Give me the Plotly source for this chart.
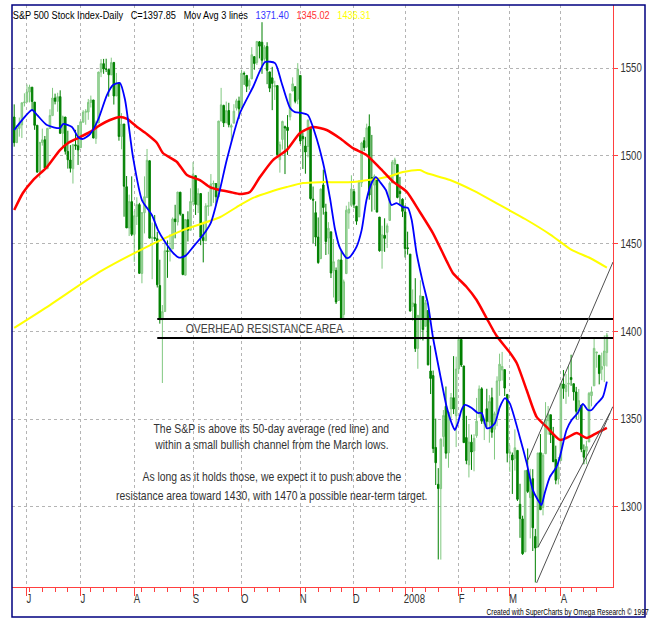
import plotly.graph_objects as go
import pandas as pd

# ---------------- data ----------------
holidays = ["2007-05-28", "2007-07-04", "2007-09-03", "2007-11-22", "2007-12-25",
            "2008-01-01", "2008-01-21", "2008-02-18", "2008-03-21"]
dates = [d for d in pd.bdate_range("2007-05-24", "2008-04-25")
         if d.strftime("%Y-%m-%d") not in holidays]

opens = [
    1522.1, 1507.5, 1515.6, 1517.6, 1530.2,
    1530.6, 1536.3, 1539.1, 1530.6, 1517.4, 1490.7, 1507.6, 1509.1, 1492.6, 1515.6, 1522.9, 1532.9, 1531.0, 1533.7, 1512.8, 1522.1, 1502.5, 1497.6, 1492.6, 1506.3, 1505.7,
    1504.6, 1519.1, 1524.8, 1524.9, 1530.4, 1531.8, 1509.9, 1518.7, 1547.7, 1552.5, 1549.5, 1549.2, 1546.1, 1553.2, 1534.1, 1541.6, 1511.0, 1518.1, 1482.4, 1458.9, 1473.9,
    1455.2, 1465.5, 1472.2, 1433.0, 1467.6, 1476.2, 1497.2, 1453.0, 1453.4, 1452.8, 1426.1, 1406.6, 1411.3, 1445.9, 1445.5, 1447.0, 1464.0, 1462.3, 1479.3, 1466.7, 1432.0, 1463.6, 1457.6,
    1473.9, 1488.7, 1472.0, 1478.5, 1453.5, 1451.6, 1471.1, 1471.5, 1483.9, 1484.2, 1476.6, 1519.8, 1528.7, 1518.8, 1525.8, 1516.3, 1518.6, 1527.3, 1531.2,
    1527.3, 1546.9, 1545.8, 1539.9, 1543.8, 1556.5, 1553.2, 1564.9, 1564.7, 1555.4, 1562.3, 1547.8, 1544.4, 1539.3, 1540.0, 1497.8, 1509.3, 1516.6, 1516.2, 1522.2, 1536.9, 1539.4, 1532.2,
    1545.8, 1511.1, 1505.6, 1505.3, 1515.5, 1475.3, 1467.6, 1453.7, 1441.4, 1483.4, 1468.0, 1453.1, 1456.7, 1434.5, 1434.7, 1417.6, 1440.7, 1409.6, 1432.9, 1467.4, 1471.8,
    1479.6, 1471.3, 1465.2, 1484.6, 1508.6, 1505.1, 1516.7, 1487.6, 1483.3, 1486.2, 1465.1, 1445.9, 1454.7, 1456.4, 1463.2, 1484.6, 1495.1, 1495.1, 1479.8, 1475.3,
    1468.0, 1447.6, 1444.0, 1414.1, 1415.7, 1390.3, 1406.8, 1419.9, 1402.9, 1411.9, 1377.4, 1374.8, 1333.9, 1312.9, 1310.4, 1340.1, 1357.3, 1330.7, 1355.9, 1362.2, 1351.9,
    1378.6, 1395.4, 1380.3, 1339.5, 1324.0, 1336.9, 1331.9, 1340.6, 1353.1, 1367.3, 1347.5, 1355.9, 1348.4, 1362.2, 1344.2, 1352.8, 1371.8, 1378.0, 1378.2, 1364.1,
    1330.5, 1329.6, 1327.7, 1332.2, 1301.5, 1293.2, 1274.4, 1321.1, 1305.3, 1316.1, 1283.2, 1277.2, 1330.9, 1299.7, 1330.3, 1349.1, 1352.5, 1341.0, 1327.0, 1315.9,
    1326.4, 1370.0, 1365.7, 1369.9, 1373.7, 1370.2, 1365.5, 1355.4, 1358.0, 1332.2, 1331.7, 1337.0, 1363.4, 1369.0, 1387.7, 1386.4, 1378.4, 1380.5, 1387.9,
]
highs = [
    1529.3, 1517.4, 1521.8, 1530.2, 1535.6,
    1540.6, 1540.5, 1539.1, 1530.6, 1517.4, 1507.8, 1515.5, 1511.3, 1515.7, 1526.5, 1538.7, 1535.4, 1535.9, 1537.3, 1522.9, 1522.1, 1514.3, 1506.1, 1506.8, 1514.8, 1517.5,
    1519.5, 1526.0, 1526.6, 1532.4, 1534.3, 1531.8, 1520.1, 1547.9, 1555.1, 1555.2, 1555.3, 1549.2, 1555.9, 1553.2, 1547.2, 1541.6, 1524.3, 1518.1, 1488.5, 1477.9, 1488.3,
    1468.4, 1476.4, 1473.2, 1467.7, 1488.3, 1503.9, 1497.2, 1462.0, 1466.3, 1456.7, 1440.8, 1415.0, 1450.3, 1451.8, 1455.3, 1464.9, 1472.1, 1479.4, 1479.3, 1466.7, 1463.8, 1468.4, 1481.5,
    1496.4, 1488.7, 1481.5, 1478.5, 1462.4, 1473.0, 1479.5, 1489.6, 1485.9, 1484.2, 1519.9, 1538.7, 1529.1, 1530.9, 1530.2, 1518.3, 1529.4, 1532.5, 1533.7,
    1549.0, 1548.0, 1545.8, 1544.0, 1561.9, 1556.5, 1565.3, 1565.4, 1576.1, 1563.0, 1564.7, 1547.8, 1550.7, 1542.8, 1540.0, 1508.1, 1520.0, 1517.2, 1523.2, 1535.5, 1544.7, 1539.4, 1552.8,
    1545.8, 1513.2, 1510.8, 1520.8, 1515.5, 1482.5, 1474.1, 1464.9, 1481.4, 1492.1, 1472.7, 1462.2, 1456.7, 1452.6, 1436.4, 1440.9, 1446.1, 1429.5, 1471.6, 1473.8, 1488.9,
    1481.2, 1471.3, 1486.1, 1508.0, 1510.6, 1518.3, 1523.6, 1511.9, 1489.4, 1486.7, 1465.1, 1460.2, 1464.4, 1461.5, 1485.4, 1497.6, 1498.9, 1495.1, 1488.0, 1475.8,
    1471.8, 1456.8, 1444.0, 1423.9, 1430.3, 1409.2, 1429.1, 1419.9, 1417.9, 1411.9, 1391.9, 1377.7, 1350.3, 1322.1, 1339.1, 1355.2, 1368.6, 1354.0, 1364.9, 1385.9, 1385.6,
    1396.0, 1395.4, 1380.3, 1351.9, 1347.2, 1341.2, 1341.4, 1362.1, 1369.2, 1368.2, 1350.0, 1367.3, 1363.7, 1367.9, 1354.3, 1374.4, 1387.3, 1388.3, 1378.2, 1364.1,
    1335.1, 1331.0, 1344.2, 1332.2, 1313.2, 1295.0, 1320.7, 1333.3, 1321.7, 1321.5, 1287.5, 1330.7, 1341.5, 1330.7, 1359.7, 1357.5, 1352.5, 1345.6, 1334.9, 1328.5,
    1370.2, 1378.0, 1375.7, 1380.9, 1386.7, 1370.2, 1368.4, 1367.2, 1358.0, 1335.6, 1337.7, 1365.5, 1368.6, 1395.9, 1388.2, 1386.4, 1387.9, 1397.7, 1399.1,
]
lows = [
    1505.2, 1507.5, 1510.9, 1510.1, 1528.1,
    1530.6, 1530.4, 1525.6, 1514.8, 1490.4, 1487.4, 1505.8, 1492.9, 1492.6, 1515.6, 1522.9, 1529.3, 1525.1, 1512.4, 1504.8, 1500.7, 1492.7, 1490.5, 1484.2, 1503.4, 1494.8,
    1504.6, 1519.1, 1517.7, 1520.5, 1527.5, 1510.0, 1506.8, 1518.7, 1544.8, 1546.7, 1547.7, 1533.7, 1546.1, 1529.2, 1534.1, 1508.6, 1503.7, 1465.3, 1458.9, 1454.3, 1454.3,
    1439.6, 1460.6, 1432.8, 1427.4, 1455.8, 1476.2, 1453.1, 1429.7, 1451.5, 1425.0, 1404.4, 1370.6, 1411.3, 1430.5, 1439.8, 1447.0, 1453.0, 1460.3, 1465.9, 1432.0, 1432.0, 1451.2, 1457.6,
    1472.1, 1466.3, 1467.4, 1449.1, 1439.3, 1451.6, 1465.8, 1471.5, 1473.2, 1471.8, 1476.6, 1519.8, 1516.4, 1518.8, 1516.2, 1507.1, 1518.6, 1525.8, 1521.0,
    1527.3, 1540.4, 1536.3, 1537.6, 1543.8, 1549.0, 1551.8, 1555.5, 1546.7, 1554.1, 1540.8, 1536.3, 1526.0, 1531.8, 1500.3, 1490.4, 1503.6, 1489.6, 1500.5, 1520.2, 1536.9, 1529.9, 1529.4,
    1506.7, 1492.5, 1489.8, 1499.1, 1475.0, 1450.3, 1448.5, 1438.5, 1441.4, 1466.5, 1443.5, 1443.9, 1430.4, 1419.3, 1415.6, 1417.6, 1406.8, 1407.4, 1432.9, 1458.4, 1470.9,
    1470.1, 1460.7, 1465.2, 1482.2, 1502.7, 1504.4, 1475.0, 1468.2, 1469.2, 1467.8, 1445.4, 1435.7, 1445.3, 1447.5, 1463.2, 1484.6, 1488.4, 1475.8, 1471.7, 1465.1,
    1442.1, 1443.7, 1411.2, 1406.0, 1388.3, 1378.7, 1395.3, 1394.8, 1402.9, 1380.6, 1364.3, 1330.7, 1312.5, 1270.1, 1270.0, 1334.3, 1327.5, 1322.3, 1350.3, 1352.9, 1334.1,
    1375.9, 1379.7, 1336.6, 1324.3, 1316.8, 1321.1, 1320.3, 1339.4, 1350.8, 1347.3, 1338.1, 1345.1, 1336.6, 1339.4, 1327.0, 1346.0, 1363.3, 1372.0, 1363.2, 1325.4,
    1320.0, 1307.4, 1320.7, 1303.4, 1282.4, 1272.7, 1274.4, 1307.9, 1282.1, 1274.9, 1257.0, 1277.2, 1298.4, 1295.2, 1330.3, 1341.2, 1336.4, 1325.7, 1312.9, 1312.8,
    1326.4, 1361.6, 1358.7, 1362.8, 1369.0, 1360.6, 1350.0, 1350.1, 1331.2, 1324.3, 1324.4, 1337.0, 1357.3, 1369.0, 1379.3, 1369.8, 1372.2, 1371.1, 1380.0,
]
closes = [
    1507.51, 1515.73, 1518.11, 1530.23, 1530.62,
    1536.34, 1539.18, 1530.95, 1517.38, 1490.72, 1507.67, 1509.12, 1493.00, 1515.67, 1522.97, 1532.91, 1531.05, 1533.70, 1512.84, 1522.19, 1502.56, 1497.74, 1492.89, 1506.34, 1505.71, 1503.35,
    1519.43, 1524.87, 1525.40, 1530.44, 1531.85, 1510.12, 1518.76, 1547.70, 1552.50, 1549.52, 1549.37, 1546.17, 1553.08, 1534.10, 1541.57, 1511.04, 1518.09, 1482.66, 1458.95, 1473.91, 1455.27,
    1465.81, 1472.20, 1433.06, 1467.67, 1476.71, 1497.49, 1453.09, 1453.64, 1452.92, 1426.54, 1406.70, 1411.27, 1445.94, 1445.55, 1447.12, 1464.07, 1462.50, 1479.37, 1466.79, 1432.36, 1463.76, 1457.64, 1473.99,
    1489.42, 1472.29, 1478.55, 1453.55, 1451.70, 1471.49, 1471.56, 1483.95, 1484.25, 1476.65, 1519.78, 1529.03, 1518.75, 1525.75, 1517.73, 1517.21, 1525.42, 1531.38, 1526.75,
    1547.04, 1546.63, 1539.59, 1542.84, 1557.59, 1552.58, 1565.15, 1562.47, 1554.41, 1561.80, 1548.71, 1538.53, 1541.24, 1540.08, 1500.63, 1506.33, 1519.59, 1515.88, 1514.40, 1535.28, 1540.98, 1531.02, 1549.38,
    1508.44, 1509.65, 1502.17, 1520.27, 1475.62, 1474.77, 1453.70, 1439.18, 1481.05, 1470.58, 1451.15, 1458.74, 1433.27, 1439.70, 1416.77, 1440.70, 1407.22, 1428.23, 1469.02, 1469.72, 1481.14,
    1472.42, 1462.79, 1485.01, 1507.34, 1504.66, 1515.96, 1477.65, 1486.59, 1488.41, 1467.95, 1445.90, 1454.98, 1453.00, 1460.12, 1484.46, 1496.45, 1497.66, 1476.27, 1478.49, 1468.36,
    1447.16, 1447.16, 1411.63, 1416.18, 1390.19, 1409.13, 1420.33, 1401.02, 1416.25, 1380.95, 1373.20, 1333.25, 1325.19, 1310.50, 1338.60, 1352.07, 1330.61, 1353.96, 1362.30, 1355.81, 1378.55,
    1395.42, 1380.82, 1336.64, 1326.45, 1336.91, 1331.29, 1339.13, 1348.86, 1367.21, 1348.86, 1349.99, 1348.78, 1360.03, 1342.53, 1353.11, 1371.80, 1381.29, 1380.02, 1367.68, 1330.63,
    1331.34, 1326.75, 1333.70, 1304.34, 1293.37, 1273.37, 1320.65, 1308.77, 1315.48, 1288.14, 1276.60, 1330.74, 1298.42, 1329.51, 1349.88, 1352.99, 1341.13, 1325.76, 1315.22, 1322.70,
    1370.18, 1367.53, 1369.31, 1370.40, 1372.54, 1365.54, 1354.49, 1360.55, 1332.83, 1328.32, 1334.43, 1364.71, 1365.56, 1390.33, 1388.17, 1375.94, 1379.93, 1388.82, 1397.84,
]

# moving-average lines (position = trading-day index)
blue_pos = [0, 7, 9, 12.8, 17.9, 19.1, 22.6, 25, 26.9, 29.7, 32.8, 36.3, 38.7, 41.4, 43.4, 46.5, 50, 53.9,
            56.3, 59, 62, 64.5, 67, 70, 74, 77, 80.5, 83.2, 88.4, 93.5, 98.2, 102.1, 104.7, 108, 109.9,
            112.5, 115, 117.7, 120.9, 123.6, 125.6, 127.5, 130.1, 131.4, 134, 136, 137.9, 139.9, 141.6,
            143.2, 145.5, 147.7, 149.7, 152.2, 154.1, 155.6, 157.5, 160, 161.9, 163.9, 166.6, 169.3,
            171.2, 172.5, 173.7, 175.1, 176.4, 179.1, 181.5, 183, 184.9, 186.2, 188.2, 190.1, 192.1,
            194, 197.9, 200.6, 203, 205, 206.4, 207.7, 209.7, 212.3, 213.6, 216.2, 218.2, 220.6, 222.6,
            224.6, 226, 228, 230.4, 232]
blue_val = [1514.7, 1526.1, 1523.2, 1517.5, 1515.8, 1518.1, 1516.4, 1510.7, 1509.6, 1512.4, 1520.4, 1534.6,
            1540.3, 1541.5, 1531.8, 1499.3, 1474.8, 1466.3, 1457.7, 1451, 1445, 1442, 1443, 1448, 1455,
            1462, 1480.5, 1497.6, 1524.4, 1539.2, 1553.4, 1552.8, 1541.5, 1527.2, 1524.9, 1524.4, 1523.2,
            1513, 1496, 1476, 1458, 1447.5, 1441.8, 1442.4, 1448.1, 1457.7, 1474.8, 1484.5, 1487.9,
            1485.1, 1480.5, 1472, 1473.1, 1470.8, 1470.3, 1463.4, 1444.6, 1427.6, 1416.2, 1396.8, 1376.3,
            1356.9, 1347.8, 1343.8, 1347.8, 1355.2, 1358.1, 1356.4, 1353.5, 1353.5, 1345, 1345, 1347.8,
            1356.9, 1362, 1359, 1339.9, 1325.1, 1309.7, 1304, 1301.1, 1308, 1317.1, 1322.8, 1328.5,
            1343.8, 1349.5, 1353.5, 1358.7, 1355.2, 1355.2, 1358.7, 1362.6, 1371.4]

red_pos = [0, 3.4, 7.4, 12.8, 17.9, 21.1, 25, 29.7, 33.6, 37.5, 41.4, 44.2, 48.1, 51.9, 55.9, 58.2, 63.7,
           67.6, 72.7, 76.6, 80.5, 84.5, 88.4, 92.3, 96.2, 101.3, 106.7, 111.9, 116.9, 122.3, 127.5,
           132.6, 137.9, 143.2, 148.3, 153.6, 158.8, 163.9, 169.3, 171.7, 177.1, 181, 184.9, 188.8,
           194, 196.7, 200.6, 204.5, 208.4, 213.6, 216.2, 220.2, 224.1, 228, 232]
red_val = [1469.1, 1478.8, 1486.2, 1493.6, 1503.3, 1507.3, 1510.1, 1513.6, 1517.5, 1520.4, 1522.1, 1521,
           1516.4, 1512.4, 1507.3, 1501.6, 1496.5, 1489.1, 1486.2, 1482.2, 1480.5, 1479.4, 1478.2,
           1479.4, 1487.9, 1497.6, 1503.3, 1513, 1516.4, 1514.7, 1510, 1504.4, 1500.5, 1493, 1485.3,
           1479.6, 1468, 1456, 1440, 1433.3, 1425.3, 1417.9, 1407.6, 1397.5, 1388, 1382, 1366.6,
           1351.3, 1345.6, 1338.2, 1339.3, 1342.1, 1339.3, 1342.1, 1345.0]

yellow_pos = [0, 14, 33.6, 53.1, 66.1, 80.5, 87.1, 93.5, 100.1, 106.7, 113, 119.7, 132.6, 145.8, 152.2,
              158.8, 161.4, 170.6, 180, 190, 200, 210, 218.2, 225.4, 232]
yellow_val = [1402, 1415, 1434, 1449, 1457.7, 1465, 1470.8, 1476, 1479.4, 1482.2, 1484.5, 1485, 1485.1,
              1487.9, 1490.8, 1491.9, 1490.2, 1486.2, 1480, 1472, 1464, 1455, 1446.4, 1441.8, 1436.3]

resistance_levels = [1407.0, 1396.2]
resistance_start = 56
channel_lines = [  # (index0, value0, index1, value1)
    (201.1, 1326.8, 234.4, 1439.5),
    (204.5, 1256.7, 234.3, 1357.1),
    (205.0, 1277.0, 233.2, 1353.5),
]
header_parts = [("S&P 500 Stock Index-Daily", "#000000"), ("C=1397.85", "#000000"),
                ("Mov Avg 3 lines", "#000000"), ("1371.40", "#3333ff"),
                ("1345.02", "#ff3333"), ("1436.31", "#ffff00")]
month_labels = ["J", "J", "A", "S", "O", "N", "D", "2008", "F", "M", "A"]
y_ticks = [1300, 1350, 1400, 1450, 1500, 1550]
note_lines = ["The S&P is above its 50-day average (red line) and",
              "within a small bullish channel from the March lows.",
              "As long as it holds those, we expect it to push above the",
              "resistance area toward 1430, with 1470 a possible near-term target."]
note_values = [1344.4, 1335.3, 1317.1, 1306.3]

# ---------------- figure ----------------
idx = list(range(len(dates)))
month_idx = [i for i in idx if i > 0 and dates[i].month != dates[i - 1].month]
weeks = {}
for i in idx:
    k = tuple(dates[i].isocalendar()[:2])
    weeks.setdefault(k, []).append(i)
week_idx = [v[0] for v in weeks.values()
            if 0 not in v and not any(j in month_idx for j in v)]

FONT = "Liberation Sans, Arial, sans-serif"
RED = "#ff4040"
X0, X1 = -0.86, 234.4
Y0, Y1 = 1254.4, 1585.9
L, R, T, B = 12, 38, 5, 32
PW, PH = 651 - L - R, 619 - T - B


def px_x(p):
    return (p - L) / PW


def px_y(p):
    return (619 - B - p) / PH


fig = go.Figure()
fig.add_trace(go.Candlestick(
    x=idx, open=opens, high=highs, low=lows, close=closes,
    increasing=dict(line=dict(color="#80c880", width=1), fillcolor="#a6d8a6"),
    decreasing=dict(line=dict(color="#008000", width=1), fillcolor="#008000"),
    whiskerwidth=0, showlegend=False, hoverinfo="skip"))
fig.add_trace(go.Scatter(x=yellow_pos, y=yellow_val, mode="lines",
                         line=dict(color="#ffff00", width=2, shape="spline", smoothing=0.6),
                         showlegend=False, hoverinfo="skip"))
fig.add_trace(go.Scatter(x=red_pos, y=red_val, mode="lines",
                         line=dict(color="#ff0000", width=2.5, shape="spline", smoothing=0.6),
                         showlegend=False, hoverinfo="skip"))
fig.add_trace(go.Scatter(x=blue_pos, y=blue_val, mode="lines",
                         line=dict(color="#0000ff", width=1.8, shape="spline", smoothing=0.6),
                         showlegend=False, hoverinfo="skip"))

shapes = []
shapes.append(dict(type="rect", xref="paper", yref="paper", x0=0, x1=px_x(372),
                   y0=px_y(22), y1=1, fillcolor="white", line=dict(width=0), layer="between"))
for lv in resistance_levels:
    shapes.append(dict(type="line", xref="x", yref="y", x0=resistance_start, x1=X1, y0=lv, y1=lv,
                       line=dict(color="black", width=2)))
for (a0, b0, a1, b1) in channel_lines:
    shapes.append(dict(type="line", xref="x", yref="y", x0=a0, y0=b0, x1=a1, y1=b1,
                       line=dict(color="#505050", width=1)))
shapes.append(dict(type="rect", xref="paper", yref="paper", x0=0, x1=px_x(645),
                   y0=px_y(617), y1=1, line=dict(color="#000080", width=1.5),
                   fillcolor="rgba(0,0,0,0)", layer="above"))

ann = []
gap = "\u00a0\u00a0\u00a0"
header = gap.join(t if c == "#000000" else '<span style="color:%s">%s</span>' % (c, t)
                  for t, c in header_parts)
ann.append(dict(text=header, xref="paper", yref="paper", x=px_x(191.5), y=px_y(15),
                xanchor="center", yanchor="middle", showarrow=False,
                font=dict(family=FONT, size=11.5, color="#000000")))
label_shift = [2, 2, 3, 2.5, 3, 3, 3, 9.5, 2.5, 3.5, 3]
for lab, mi, sh in zip(month_labels, month_idx, label_shift):
    ann.append(dict(text=lab, xref="x", yref="paper", x=mi, xshift=sh, y=px_y(599),
                    xanchor="center", yanchor="middle", showarrow=False,
                    font=dict(family=FONT, size=12, color="#333333")))
ann.append(dict(text="OVERHEAD RESISTANCE AREA", xref="paper", yref="y", x=px_x(264.5), y=1401.8,
                xanchor="center", yanchor="middle", showarrow=False,
                font=dict(family=FONT, size=13, color="#404040")))
for t, v in zip(note_lines, note_values):
    ann.append(dict(text=t, xref="paper", yref="y", x=px_x(271.5), y=v, xanchor="center",
                    yanchor="middle", showarrow=False, font=dict(family=FONT, size=13, color="#333333")))
ann.append(dict(text="Created with SuperCharts by Omega Research © 1997", xref="paper", yref="paper",
                x=px_x(567), y=px_y(612), xanchor="center", yanchor="middle",
                showarrow=False, font=dict(family=FONT, size=8.3, color="#000000")))

fig.update_layout(
    width=651, height=619, margin=dict(l=L, r=R, t=T, b=B),
    paper_bgcolor="white", plot_bgcolor="white", boxgap=0.15,
    shapes=shapes, annotations=ann, showlegend=False,
    xaxis=dict(range=[X0, X1], type="linear", rangeslider=dict(visible=False),
               tickmode="array", tickvals=month_idx, showticklabels=False,
               ticks="outside", ticklen=8, tickcolor=RED, tickwidth=1,
               showgrid=True, gridcolor="#b4b4b4", griddash="dot", gridwidth=1,
               showline=True, linecolor=RED, linewidth=1, zeroline=False, fixedrange=True,
               minor=dict(tickmode="array", tickvals=week_idx, ticks="outside", ticklen=4,
                          tickcolor=RED, showgrid=False)),
    yaxis=dict(range=[Y0, Y1], side="right", tickmode="array", tickvals=y_ticks,
               ticks="outside", ticklen=4, tickcolor=RED,
               showgrid=True, gridcolor="#b4b4b4", griddash="dot", gridwidth=1,
               showline=True, linecolor=RED, linewidth=1, zeroline=False, fixedrange=True,
               tickfont=dict(family=FONT, size=12, color="#333333")),
)

# remove the page margin and give the texts the narrow look of the original
# (horizontal squeeze about each text's anchor point)
post = """
document.body.style.margin = '0';
document.querySelectorAll('text.annotation-text, g.ytick text').forEach(function (t) {
  var x = parseFloat(t.getAttribute('x')) || 0;
  var tr = t.getAttribute('transform') || '';
  t.setAttribute('transform', tr + ' translate(' + x + ',0) scale(0.8,1) translate(' + (-x) + ',0)');
});
"""
fig.write_html("out.html", post_script=post, config={"displayModeBar": False})
